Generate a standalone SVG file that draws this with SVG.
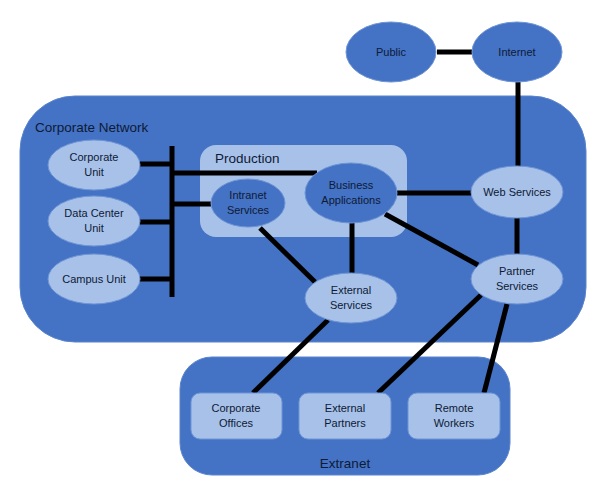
<svg xmlns="http://www.w3.org/2000/svg" width="598" height="488" viewBox="0 0 598 488">
<style>
.t{font-family:"Liberation Sans",Arial,sans-serif;font-size:11px;fill:#0e1a36;text-anchor:middle}
.h{font-family:"Liberation Sans",Arial,sans-serif;font-size:13.5px;fill:#0e1a36}
.lt{fill:#a7c1e8;stroke:#6f95d6;stroke-width:1}
.dk{fill:#4472c4;stroke:#6f95d6;stroke-width:1}
.c{stroke:#000;stroke-width:5;fill:none}
</style>
<rect width="598" height="488" fill="#fff"/>
<g id="corporate-network"><rect x="20" y="96" width="566" height="246" rx="55" fill="#4472c4" stroke="#5a84cc"/><text class="h" x="35" y="132">Corporate Network</text></g>
<g id="production"><rect x="200" y="145" width="207" height="92" rx="16" fill="#a7c1e8"/><text class="h" x="215" y="163">Production</text></g>
<g id="extranet"><rect x="180" y="357" width="330" height="118" rx="32" fill="#4472c4" stroke="#5a84cc"/><text class="h" x="345" y="468" text-anchor="middle">Extranet</text></g>
<g id="connectors">
<line class="c" x1="437" y1="52" x2="472" y2="52"/>
<line class="c" x1="518" y1="82" x2="518" y2="167"/>
<line class="c" x1="172" y1="146" x2="172" y2="297"/>
<line class="c" x1="139" y1="164" x2="172" y2="164"/>
<line class="c" x1="139" y1="222" x2="172" y2="222"/>
<line class="c" x1="139" y1="279" x2="172" y2="279"/>
<line class="c" x1="172" y1="173" x2="317" y2="173"/>
<line class="c" x1="172" y1="204" x2="211" y2="204"/>
<line class="c" x1="397" y1="193" x2="471" y2="193"/>
<line class="c" x1="352" y1="222" x2="352" y2="273"/>
<line class="c" x1="385" y1="214" x2="478" y2="265"/>
<line class="c" x1="517" y1="218" x2="517" y2="254"/>
<line class="c" x1="260" y1="228" x2="315" y2="282"/>
<line class="c" x1="328" y1="320" x2="253" y2="393"/>
<line class="c" x1="481" y1="295" x2="378" y2="393"/>
<line class="c" x1="507" y1="304" x2="484" y2="393"/>
</g>
<g id="public"><ellipse class="dk" cx="391" cy="52" rx="45" ry="30"/><text class="t" x="391" y="56">Public</text></g>
<g id="internet"><ellipse class="dk" cx="517" cy="52" rx="45" ry="30"/><text class="t" x="517" y="56">Internet</text></g>
<g id="corporate-unit"><ellipse class="lt" cx="94" cy="165" rx="46" ry="25"/><text class="t" x="94" y="161">Corporate</text><text class="t" x="94" y="176">Unit</text></g>
<g id="data-center-unit"><ellipse class="lt" cx="94" cy="221" rx="46" ry="25"/><text class="t" x="94" y="217">Data Center</text><text class="t" x="94" y="232">Unit</text></g>
<g id="campus-unit"><ellipse class="lt" cx="94" cy="279" rx="46" ry="25"/><text class="t" x="94" y="283">Campus Unit</text></g>
<g id="intranet-services"><ellipse class="dk" cx="248" cy="203" rx="37" ry="24"/><text class="t" x="248" y="199">Intranet</text><text class="t" x="248" y="214">Services</text></g>
<g id="business-applications"><ellipse class="dk" cx="351" cy="193" rx="46" ry="30"/><text class="t" x="351" y="189">Business</text><text class="t" x="351" y="204">Applications</text></g>
<g id="web-services"><ellipse class="lt" cx="517" cy="192" rx="46" ry="26"/><text class="t" x="517" y="196">Web Services</text></g>
<g id="partner-services"><ellipse class="lt" cx="517" cy="279" rx="46" ry="25"/><text class="t" x="517" y="275">Partner</text><text class="t" x="517" y="290">Services</text></g>
<g id="external-services"><ellipse class="lt" cx="351" cy="298" rx="46" ry="25"/><text class="t" x="351" y="294">External</text><text class="t" x="351" y="309">Services</text></g>
<g id="corporate-offices"><rect class="lt" x="191" y="393" width="91" height="46" rx="9" stroke="none"/><text class="t" x="236" y="412">Corporate</text><text class="t" x="236" y="427">Offices</text></g>
<g id="external-partners"><rect class="lt" x="299" y="393" width="92" height="46" rx="9" stroke="none"/><text class="t" x="345" y="412">External</text><text class="t" x="345" y="427">Partners</text></g>
<g id="remote-workers"><rect class="lt" x="408" y="393" width="92" height="46" rx="9" stroke="none"/><text class="t" x="454" y="412">Remote</text><text class="t" x="454" y="427">Workers</text></g>
</svg>
